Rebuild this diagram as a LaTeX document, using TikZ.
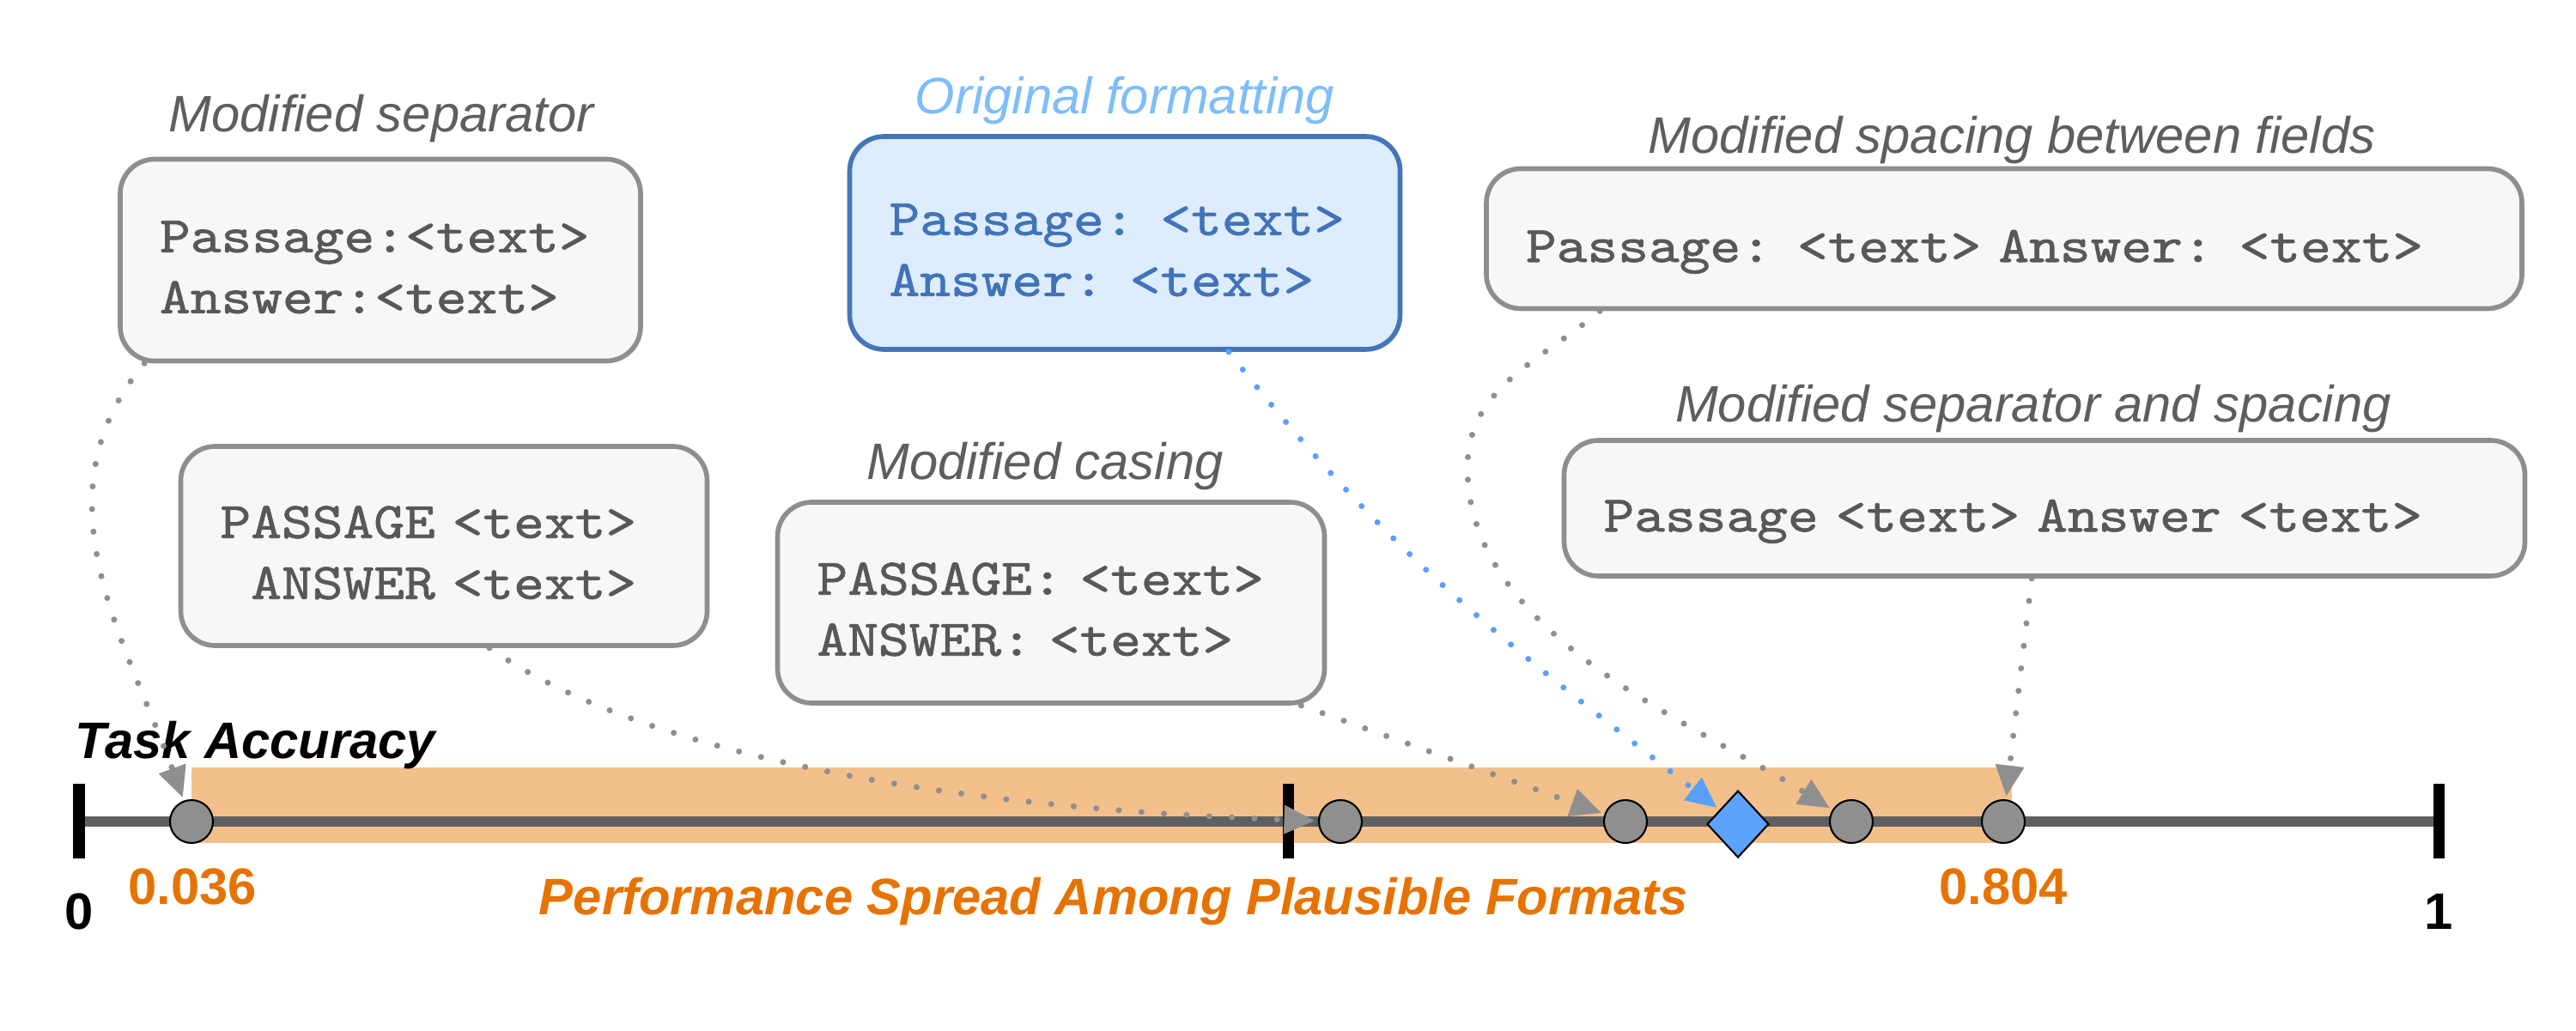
\documentclass[tikz,border=0pt]{standalone}
\usepackage{fontspec}
\setmainfont{Liberation Sans}
\newfontfamily\codefont{lmmono10-regular.otf}[FakeStretch=1.14, FakeBold=1.2]
\usetikzlibrary{arrows.meta,shapes.geometric}

\definecolor{boxline}{RGB}{142,142,142}
\definecolor{boxfill}{RGB}{247,247,249}
\definecolor{codegrey}{RGB}{88,88,88}
\definecolor{labelgrey}{RGB}{94,94,94}
\definecolor{origline}{RGB}{69,117,184}
\definecolor{origfill}{RGB}{221,237,253}
\definecolor{origtext}{RGB}{66,115,184}
\definecolor{origlabel}{RGB}{125,189,251}
\definecolor{spreadorange}{RGB}{230,115,0}
\definecolor{spreadband}{RGB}{243,192,140}
\definecolor{axisgrey}{RGB}{96,96,96}
\definecolor{dotgrey}{RGB}{143,143,143}
\definecolor{diamondblue}{RGB}{93,162,253}
\definecolor{linkblue}{RGB}{90,160,250}

\tikzset{
	fmtbox/.style={draw=boxline, fill=boxfill, line width=1.6pt, rounded corners=0.4cm,
		inner xsep=0.46cm, align=left, text=codegrey, font=\fontsize{17}{20.2}\selectfont\codefont,
		execute at begin node={\rule{0pt}{0.53cm}}},
	oneline/.style={execute at begin node={\rule{0pt}{0.68cm}}},
	origbox/.style={fmtbox, draw=origline, fill=origfill, text=origtext},
	fmtlabel/.style={text=labelgrey, font=\fontsize{17}{20}\selectfont\itshape, inner sep=0pt},
	link/.style={dotgrey, line width=2pt, line cap=round, dash pattern=on 0pt off 7.5pt,
		-{Triangle[length=0.36cm, width=0.32cm]}, shorten >=1pt},
	score/.style={circle, draw=black, fill=dotgrey, line width=0.6pt, minimum size=0.5cm, inner sep=0pt},
	origscore/.style={diamond, draw=black, fill=diamondblue, line width=0.6pt,
		minimum width=0.72cm, minimum height=0.78cm, inner sep=0pt},
	axistick/.style={black, line width=3.7pt},
	axislabel/.style={font=\fontsize{17}{20}\selectfont\bfseries, inner sep=0pt},
}

\begin{document}
\begin{tikzpicture}
	\useasboundingbox (0, 0) rectangle (30, 12);

	% spread band and axis
	\fill[spreadband] (2.23, 2.18) rectangle (23.43, 3.06);
	\draw[axisgrey, line width=0.12cm] (0.92, 2.43) -- (28.40, 2.43);
	\foreach \x in {0.92, 15.00, 28.40}
		\draw[axistick] (\x, 2.00) -- (\x, 2.87);

	% accuracy of each format
	\foreach \x [count=\i] in {2.23, 15.61, 18.93, 21.56, 23.33}
		\node[score] (c\i) at (\x, 2.43) {};
	\node[origscore] (orig) at (20.24, 2.40) {};

	% axis labels
	\node[axislabel, anchor=base] (zero) at (0.92, 1.18) {0};
	\node[axislabel, anchor=base] (one) at (28.40, 1.18) {1};
	\node[axislabel, spreadorange, anchor=base] (low) at (2.24, 1.47) {0.036};
	\node[axislabel, spreadorange, anchor=base] (high) at (23.33, 1.47) {0.804};
	\node[axislabel, spreadorange, anchor=base] (spread) at (12.97, 1.35) {\itshape Performance Spread Among Plausible Formats};
	\node[axislabel, anchor=base west] (acc) at (0.87, 3.17) {\itshape Task Accuracy};

	% formats
	\node[fmtbox, text width=5.14cm, minimum height=2.35cm] (sepbox) at (4.43, 8.97)
		{Passage:<text>\\Answer:<text>};
	\node[fmtlabel] (sepname) at (4.44, 10.62) {Modified separator};

	\node[origbox, text width=5.49cm, minimum height=2.48cm] (origfmt) at (13.10, 9.17)
		{Passage: <text>\\Answer: <text>};
	\node[fmtlabel, origlabel] (origname) at (13.10, 10.83) {Original formatting};

	\node[fmtbox, oneline, text width=11.14cm, minimum height=1.63cm] (spacebox) at (23.34, 9.22)
		{Passage: <text> Answer: <text>};
	\node[fmtlabel] (spacename) at (23.43, 10.37) {Modified spacing between fields};

	\node[fmtbox, oneline, text width=10.27cm, minimum height=1.58cm] (sepspacebox) at (23.81, 6.08)
		{Passage <text> Answer <text>};
	\node[fmtlabel] (sepspacename) at (23.68, 7.24) {Modified separator and spacing};

	\node[fmtbox, text width=5.45cm, minimum height=2.34cm] (casebox) at (12.24, 4.98)
		{PASSAGE: <text>\\ANSWER: <text>};
	\node[fmtlabel] (casename) at (12.17, 6.57) {Modified casing};

	\node[fmtbox, text width=5.21cm, minimum height=2.32cm] (capsbox) at (5.17, 5.64)
		{PASSAGE <text>\\\hphantom{P}ANSWER <text>};

	% connectors
	\draw[link] ([xshift=0.31cm]sepbox.south west) to[out=-130, in=110] (c1);
	\draw[link] ([xshift=0.53cm]capsbox.south) .. controls +(-35:2) and +(178:5) .. (c2);
	\draw[link] ([xshift=-0.30cm]casebox.south east) -- (c3);
	\draw[link, linkblue] ([xshift=1.21cm]origfmt.south) to[out=-52, in=142] (orig);
	\coordinate (spacebend) at (17.09, 6.55);
	\draw[link] ([xshift=1.35cm]spacebox.south west) to[out=-140, in=90] (spacebend)
		to[out=-90, in=148, looseness=0.85] (c4);
	\draw[link] ([xshift=-0.15cm]sepspacebox.south) -- (c5);
\end{tikzpicture}
\end{document}
